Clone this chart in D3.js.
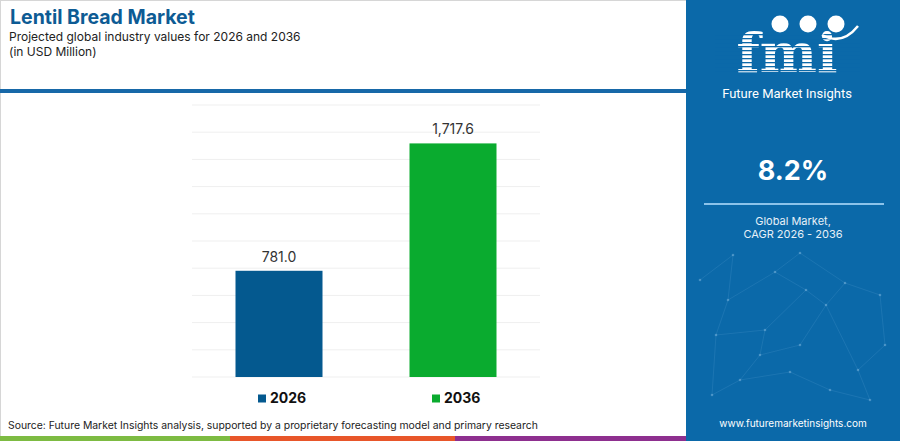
<!DOCTYPE html>
<html>
<head>
<meta charset="utf-8">
<script src="https://cdn.jsdelivr.net/npm/d3@7"></script>
<style>
  body { margin: 0; background: #fff; }
  svg text { font-family: "Inter", "Noto Sans", sans-serif; }
</style>
</head>
<body>
<div id="chart"></div>
<script>
// chart data
var years = ["2026", "2036"];
var values = [781.0, 1717.6];
var valueLabels = ["781.0", "1,717.6"];
var barColors = ["#04598f", "#0aab2f"];
var gridTicks = [0, 200, 400, 600, 800, 1000, 1200, 1400, 1600, 1800, 2000];

var cagrText = "8.2%";
var cagrLines = ["Global Market,", "CAGR 2026 - 2036"];

var svgWidth = 900;
var svgHeight = 441;

// plot area
var plot = { left: 192, right: 540, top: 105, bottom: 377 };

var svg = d3.select("#chart")
  .append("svg")
  .attr("width", svgWidth)
  .attr("height", svgHeight);

// outer frame
svg.append("rect")
  .attr("x", 0.5).attr("y", 0.5)
  .attr("width", 686).attr("height", svgHeight - 1)
  .attr("fill", "#fff")
  .attr("stroke", "#d6d6d6");

// header
svg.append("text")
  .attr("x", 10).attr("y", 24)
  .attr("font-size", "19.5px")
  .attr("font-weight", "bold")
  .attr("fill", "#0d5b94")
  .text("Lentil Bread Market");

svg.append("text")
  .attr("x", 9).attr("y", 41)
  .attr("font-size", "12px")
  .attr("fill", "#222")
  .text("Projected global industry values for 2026 and 2036");

svg.append("text")
  .attr("x", 9).attr("y", 56)
  .attr("font-size", "12px")
  .attr("fill", "#222")
  .text("(in USD Million)");

svg.append("rect")
  .attr("x", 0).attr("y", 89)
  .attr("width", 686).attr("height", 4)
  .attr("fill", "#1768a8");

// scales
var x = d3.scaleBand()
  .domain(years)
  .range([plot.left, plot.right])
  .paddingInner(0.5)
  .paddingOuter(0.25);

var y = d3.scaleLinear()
  .domain([0, 2000])
  .range([plot.bottom, plot.top]);

// gridlines
svg.append("g")
  .selectAll("line")
  .data(gridTicks)
  .enter()
  .append("line")
  .attr("x1", plot.left)
  .attr("x2", plot.right)
  .attr("y1", d => y(d))
  .attr("y2", d => y(d))
  .attr("stroke", "#efefef")
  .attr("stroke-width", 1);

// bars
svg.append("g")
  .selectAll("rect")
  .data(values)
  .enter()
  .append("rect")
  .attr("x", (d, i) => x(years[i]))
  .attr("y", d => y(d))
  .attr("width", x.bandwidth())
  .attr("height", d => y(0) - y(d))
  .attr("fill", (d, i) => barColors[i]);

// value labels
svg.append("g")
  .selectAll("text")
  .data(values)
  .enter()
  .append("text")
  .attr("x", (d, i) => x(years[i]) + x.bandwidth() / 2)
  .attr("y", d => y(d) - 9)
  .attr("text-anchor", "middle")
  .attr("font-size", "14px")
  .attr("fill", "#333")
  .text((d, i) => valueLabels[i]);

// legend
var legend = svg.append("g")
  .selectAll("g")
  .data(years)
  .enter()
  .append("g")
  .attr("transform", d => `translate(${x(d) + x.bandwidth() / 2 - 21}, 394)`);

legend.append("rect")
  .attr("width", 8).attr("height", 8)
  .attr("y", 0.5)
  .attr("fill", (d, i) => barColors[i]);

legend.append("text")
  .attr("x", 12).attr("y", 8.5)
  .attr("font-size", "14px")
  .attr("font-weight", "bold")
  .attr("fill", "#111")
  .text(d => d);

// source
svg.append("text")
  .attr("x", 8).attr("y", 429)
  .attr("font-size", "10.4px")
  .attr("fill", "#222")
  .text("Source: Future Market Insights analysis, supported by a proprietary forecasting model and primary research");

// bottom stripe
var stripe = [["#7dbb42", 0, 230], ["#e8562a", 230, 455], ["#8e2f8f", 455, 686]];
svg.append("g")
  .selectAll("rect")
  .data(stripe)
  .enter()
  .append("rect")
  .attr("x", d => d[1]).attr("y", 436)
  .attr("width", d => d[2] - d[1]).attr("height", 5)
  .attr("fill", d => d[0]);

// right panel
var panel = svg.append("g");
panel.append("rect")
  .attr("x", 686).attr("y", 0)
  .attr("width", 214).attr("height", svgHeight)
  .attr("fill", "#0b69a9");

// faint network pattern
var net = [[700,280],[733,255],[728,300],[775,272],[800,253],[806,290],[845,283],[880,295],
           [716,335],[765,330],[760,355],[800,345],[826,305],[858,370],[885,345],[740,380],
           [790,372],[830,390],[870,400],[712,395]];
var links = [[0,1],[1,2],[2,3],[3,4],[4,6],[6,7],[3,5],[5,12],[12,6],[2,8],[8,9],[9,10],
             [10,11],[11,12],[12,13],[13,14],[7,14],[10,15],[15,16],[16,17],[17,18],[13,18],[8,19],[19,15],[9,5]];
panel.append("g")
  .selectAll("line")
  .data(links)
  .enter()
  .append("line")
  .attr("x1", d => net[d[0]][0]).attr("y1", d => net[d[0]][1])
  .attr("x2", d => net[d[1]][0]).attr("y2", d => net[d[1]][1])
  .attr("stroke", "#6fb0dc")
  .attr("stroke-opacity", 0.22)
  .attr("stroke-width", 0.8);
panel.append("g")
  .selectAll("circle")
  .data(net)
  .enter()
  .append("circle")
  .attr("cx", d => d[0]).attr("cy", d => d[1])
  .attr("r", 1.3)
  .attr("fill", "#9ccbea")
  .attr("fill-opacity", 0.4);

// logo
var logo = panel.append("g");
logo.append("text")
  .attr("x", 787).attr("y", 72)
  .attr("text-anchor", "middle")
  .attr("font-size", "54px")
  .attr("font-weight", "bold")
  .attr("fill", "#fff")
  .attr("letter-spacing", "0")
  .style("font-family", "'DejaVu Serif', serif")
  .text("fmi");

// stripes across the logo letters
logo.append("g")
  .selectAll("rect")
  .data(d3.range(34, 74, 4))
  .enter()
  .append("rect")
  .attr("x", 715).attr("y", d => d)
  .attr("width", 145).attr("height", 1.3)
  .attr("fill", "#0b69a9");

logo.append("g")
  .selectAll("circle")
  .data([780, 808, 836])
  .enter()
  .append("circle")
  .attr("cx", d => d).attr("cy", 24)
  .attr("r", 8.5)
  .attr("fill", "#fff");

logo.append("path")
  .attr("d", "M822,35 Q842,46 858,26")
  .attr("fill", "none")
  .attr("stroke", "#fff")
  .attr("stroke-width", 2.5);

logo.append("text")
  .attr("x", 787).attr("y", 98)
  .attr("text-anchor", "middle")
  .attr("font-size", "13px")
  .attr("fill", "#fff")
  .style("font-family", "'Roboto', sans-serif")
  .text("Future Market Insights");

// CAGR
panel.append("text")
  .attr("x", 793).attr("y", 180)
  .attr("text-anchor", "middle")
  .attr("font-size", "27px")
  .attr("font-weight", "bold")
  .attr("fill", "#fff")
  .text(cagrText);

panel.append("line")
  .attr("x1", 704).attr("x2", 884)
  .attr("y1", 204).attr("y2", 204)
  .attr("stroke", "#8cc3ea")
  .attr("stroke-width", 2);

panel.selectAll(".cagr")
  .data(cagrLines)
  .enter()
  .append("text")
  .attr("class", "cagr")
  .attr("x", 793)
  .attr("y", (d, i) => 225 + i * 13)
  .attr("text-anchor", "middle")
  .attr("font-size", "11px")
  .attr("fill", "#e6f0f8")
  .text(d => d);

panel.append("text")
  .attr("x", 793).attr("y", 427)
  .attr("text-anchor", "middle")
  .attr("font-size", "10px")
  .attr("fill", "#fff")
  .text("www.futuremarketinsights.com");
</script>
</body>
</html>
